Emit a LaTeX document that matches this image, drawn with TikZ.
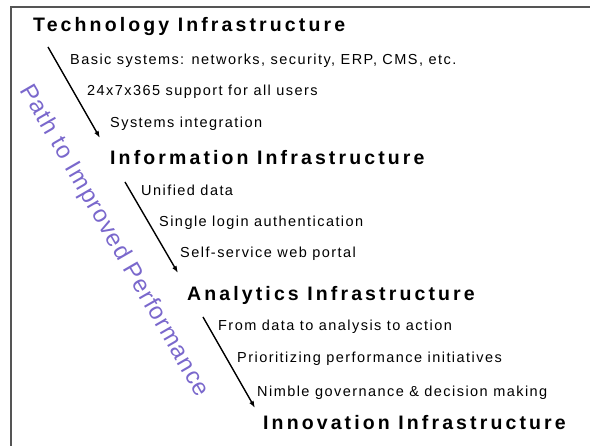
\documentclass[tikz,border=0pt]{standalone}
\usepackage{fontspec}
\setmainfont{Liberation Sans}
\newfontfamily\headfont[LetterSpace=16]{Liberation Sans}
\newfontfamily\itemfont[LetterSpace=10]{Liberation Sans}
\newfontfamily\pathfont[LetterSpace=5]{Liberation Sans}
\usepackage{xcolor}
\definecolor{pathpurple}{RGB}{122,104,204}
\definecolor{framegray}{RGB}{85,85,85}
\usetikzlibrary{arrows.meta}

\begin{document}
\begin{tikzpicture}[
    x=1pt, y=-1pt,
    layer/.style={anchor=base west, inner sep=0pt, font=\headfont\bfseries\fontsize{19.5}{22}\selectfont},
    item/.style={anchor=base west, inner sep=0pt, font=\itemfont\fontsize{14.5}{16}\selectfont},
    steparrow/.style={line width=1.4pt, -{Latex[length=7pt,width=5pt]}}
]
    \useasboundingbox (0,0) rectangle (590,446);
    \draw[framegray, line width=1.5pt] (11,446) -- (11,7) -- (590,7);

    % Technology
    \node[layer] (tech) at (33,32) {Technology Infrastructure};
    \node[item] (t1) at (70,65) {Basic systems: networks, security, ERP, CMS, etc.};
    \node[item] (t2) at (87,96) {24x7x365 support for all users};
    \node[item] (t3) at (110,128) {Systems integration};
    \coordinate (a1s) at (48,47); \coordinate (a1e) at (100,138);
    \draw[steparrow] (a1s) -- (a1e);

    % Information
    \node[layer] (info) at (110,165) {Information Infrastructure};
    \node[item] (i1) at (141,196) {Unified data};
    \node[item] (i2) at (159,227) {Single login authentication};
    \node[item] (i3) at (180,258) {Self-service web portal};
    \coordinate (a2s) at (125,182); \coordinate (a2e) at (178,273);
    \draw[steparrow] (a2s) -- (a2e);

    % Analytics
    \node[layer] (anal) at (187,301) {Analytics Infrastructure};
    \node[item] (n1) at (218,331) {From data to analysis to action};
    \node[item] (n2) at (237,363) {Prioritizing performance initiatives};
    \node[item] (n3) at (257,397) {Nimble governance \& decision making};
    \coordinate (a3s) at (203,317); \coordinate (a3e) at (255,408);
    \draw[steparrow] (a3s) -- (a3e);

    % Innovation
    \node[layer] (innov) at (263,430) {Innovation Infrastructure};

    % path label
    \node[rotate=-60, text=pathpurple, inner sep=0pt, font=\pathfont\fontsize{24}{26}\selectfont] (path) at (114,241) {Path to Improved Performance};
\end{tikzpicture}
\end{document}
